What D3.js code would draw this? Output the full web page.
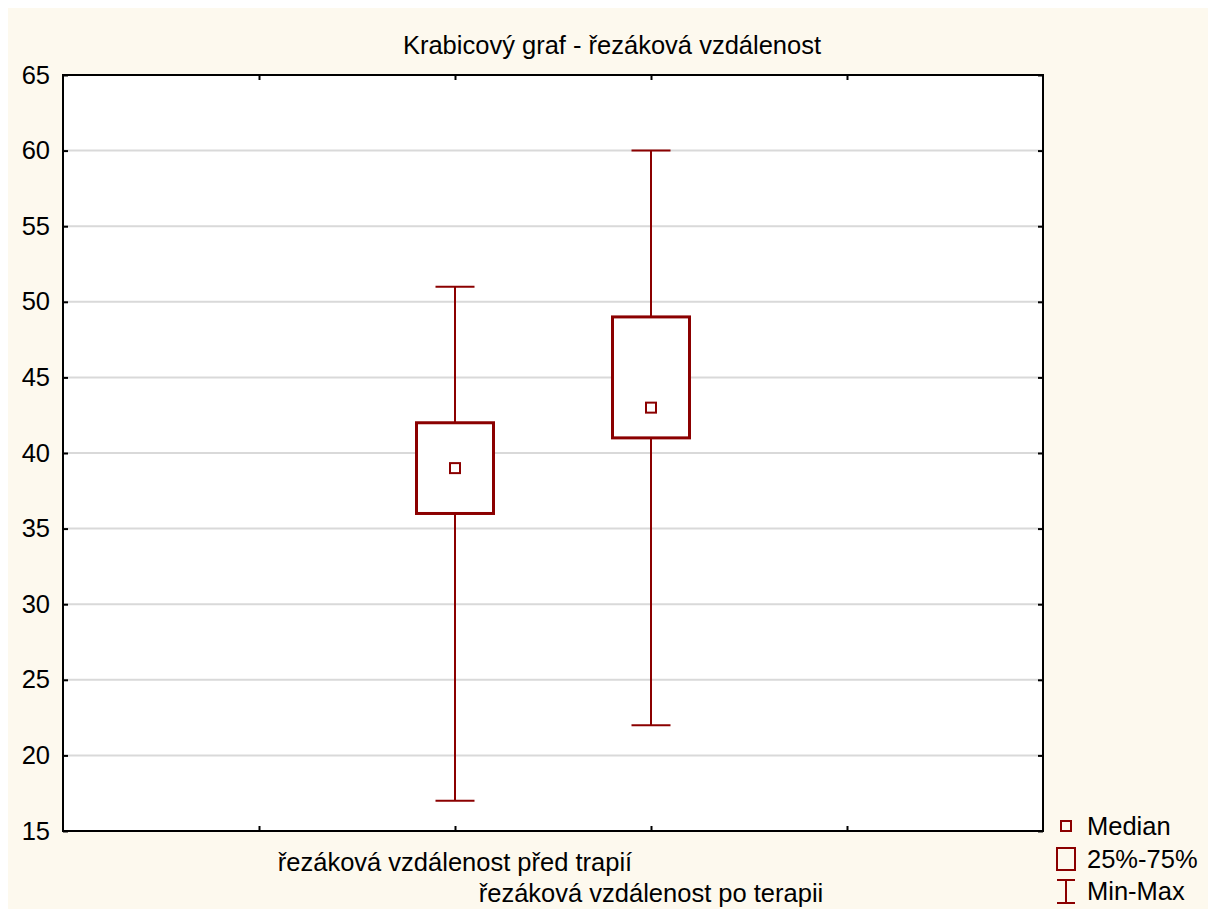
<!DOCTYPE html>
<html>
<head>
<meta charset="utf-8">
<script src="https://cdn.jsdelivr.net/npm/d3@7"></script>
<style>
  html, body { margin: 0; padding: 0; background: #ffffff; }
  svg { display: block; font-family: "Liberation Sans", Arial, sans-serif; }
</style>
</head>
<body>
<svg id="chart" width="1208" height="909"></svg>
<script>
// Box plot data
const categories = ["řezáková vzdálenost před trapií", "řezáková vzdálenost po terapii"];
const mins    = [17, 22];
const q1s     = [36, 41];
const medians = [39, 43];
const q3s     = [42, 49];
const maxs    = [51, 60];
const yTicks  = [15, 20, 25, 30, 35, 40, 45, 50, 55, 60, 65];
const xTickPositions = [1, 2, 3, 4];
const chartTitle = "Krabicový graf - řezáková vzdálenost";
const legendLabels = ["Median", "25%-75%", "Min-Max"];

const W = 1208, H = 909;
const plot = { left: 63, right: 1043, top: 75, bottom: 831 };
const boxColor = "#8b0000";
const fs = 25.5;

const svg = d3.select("#chart");

// page background
svg.append("rect").attr("x", 8).attr("y", 8).attr("width", W - 8).attr("height", H - 8)
  .attr("fill", "#fdf9ee");

const x = d3.scaleLinear().domain([0, 5]).range([plot.left, plot.right]);
const y = d3.scaleLinear().domain([15, 65]).range([plot.bottom, plot.top]);

// plot area
svg.append("rect")
  .attr("x", plot.left).attr("y", plot.top)
  .attr("width", plot.right - plot.left).attr("height", plot.bottom - plot.top)
  .attr("fill", "#ffffff");

// gridlines
svg.append("g").selectAll("line")
  .data(yTicks.filter(t => t > 15 && t < 65))
  .join("line")
  .attr("x1", plot.left).attr("x2", plot.right)
  .attr("y1", d => y(d)).attr("y2", d => y(d))
  .attr("stroke", "#d9d9d9").attr("stroke-width", 2);

// axes with inward ticks
const axisLeft = d3.axisLeft(y).tickValues(yTicks).tickSize(-5).tickPadding(13);
const gL = svg.append("g").attr("transform", `translate(${plot.left},0)`).call(axisLeft);
gL.selectAll("text").attr("font-size", fs).attr("fill", "#000")
  .attr("font-family", "Liberation Sans, Arial, sans-serif");

const axisRight = d3.axisRight(y).tickValues(yTicks).tickSize(-5).tickFormat("");
svg.append("g").attr("transform", `translate(${plot.right},0)`).call(axisRight);

const axisBottom = d3.axisBottom(x).tickValues(xTickPositions).tickSize(-5).tickFormat("");
svg.append("g").attr("transform", `translate(0,${plot.bottom})`).call(axisBottom);

const axisTop = d3.axisTop(x).tickValues(xTickPositions).tickSize(-5).tickFormat("");
svg.append("g").attr("transform", `translate(0,${plot.top})`).call(axisTop);

svg.selectAll(".domain").remove();
svg.selectAll(".tick line").attr("stroke", "#000").attr("stroke-width", 2);

// frame
svg.append("rect")
  .attr("x", plot.left).attr("y", plot.top)
  .attr("width", plot.right - plot.left).attr("height", plot.bottom - plot.top)
  .attr("fill", "none").attr("stroke", "#000").attr("stroke-width", 2);

// boxes
const boxHalf = 38.5, capHalf = 19.5, medHalf = 5;
const data = categories.map((c, i) => ({
  name: c, pos: i + 2, min: mins[i], q1: q1s[i], med: medians[i], q3: q3s[i], max: maxs[i]
}));

const g = svg.append("g");
data.forEach(d => {
  const cx = x(d.pos);
  // whiskers
  g.append("line").attr("x1", cx).attr("x2", cx).attr("y1", y(d.max)).attr("y2", y(d.q3))
    .attr("stroke", boxColor).attr("stroke-width", 2);
  g.append("line").attr("x1", cx).attr("x2", cx).attr("y1", y(d.q1)).attr("y2", y(d.min))
    .attr("stroke", boxColor).attr("stroke-width", 2);
  // caps
  [d.max, d.min].forEach(v => {
    g.append("line").attr("x1", cx - capHalf).attr("x2", cx + capHalf)
      .attr("y1", y(v)).attr("y2", y(v))
      .attr("stroke", boxColor).attr("stroke-width", 2);
  });
  // box
  g.append("rect").attr("x", cx - boxHalf).attr("y", y(d.q3))
    .attr("width", 2 * boxHalf).attr("height", y(d.q1) - y(d.q3))
    .attr("fill", "#fff").attr("stroke", boxColor).attr("stroke-width", 3);
  // median
  g.append("rect").attr("x", cx - medHalf).attr("y", y(d.med) - medHalf)
    .attr("width", 2 * medHalf).attr("height", 2 * medHalf)
    .attr("fill", "#fff").attr("stroke", boxColor).attr("stroke-width", 2);
});

// category labels (staggered)
data.forEach((d, i) => {
  svg.append("text").attr("x", x(d.pos)).attr("y", 871 + i * 31)
    .attr("text-anchor", "middle").attr("font-size", fs).attr("fill", "#000")
    .text(d.name);
});

// title
svg.append("text").attr("x", 612).attr("y", 54).attr("text-anchor", "middle")
  .attr("font-size", fs).attr("fill", "#000").text(chartTitle);

// legend
const lg = svg.append("g");
const lx = 1066;
const ly = [826, 859, 891];
lg.append("rect").attr("x", lx - 5).attr("y", ly[0] - 5).attr("width", 10).attr("height", 10)
  .attr("fill", "none").attr("stroke", boxColor).attr("stroke-width", 2);
lg.append("rect").attr("x", lx - 9).attr("y", ly[1] - 11).attr("width", 18).attr("height", 22)
  .attr("fill", "none").attr("stroke", boxColor).attr("stroke-width", 2);
lg.append("line").attr("x1", lx).attr("x2", lx).attr("y1", ly[2] - 11).attr("y2", ly[2] + 12)
  .attr("stroke", boxColor).attr("stroke-width", 2);
lg.append("line").attr("x1", lx - 9).attr("x2", lx + 9).attr("y1", ly[2] - 11).attr("y2", ly[2] - 11)
  .attr("stroke", boxColor).attr("stroke-width", 2);
lg.append("line").attr("x1", lx - 9).attr("x2", lx + 9).attr("y1", ly[2] + 12).attr("y2", ly[2] + 12)
  .attr("stroke", boxColor).attr("stroke-width", 2);
legendLabels.forEach((t, i) => {
  lg.append("text").attr("x", 1087).attr("y", ly[i] + 9).attr("font-size", fs)
    .attr("fill", "#000").text(t);
});
</script>
</body>
</html>
